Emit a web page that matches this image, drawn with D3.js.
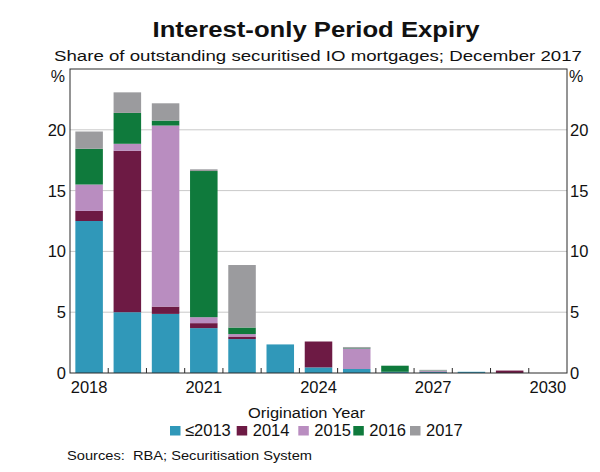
<!DOCTYPE html>
<html>
<head>
<meta charset="utf-8">
<script src="https://cdn.jsdelivr.net/npm/d3@7"></script>
<style>
  html, body { margin: 0; padding: 0; background: #fff; }
  svg { display: block; font-family: "Liberation Sans", Arial, sans-serif; }
</style>
</head>
<body>
<svg id="chart" width="600" height="472"></svg>
<script>
// ---- data ----
const years = [2018, 2019, 2020, 2021, 2022, 2023, 2024, 2025, 2026, 2027, 2028, 2029, 2030];
const seriesNames = ["≤2013", "2014", "2015", "2016", "2017"];
const le2013 = [12.5, 5.0, 4.86, 3.69, 2.79, 2.35, 0.46, 0.33, 0.1, 0.1, 0.1, 0, 0];
const y2014  = [0.83, 13.28, 0.6, 0.41, 0.21, 0, 2.13, 0, 0, 0.03, 0, 0.2, 0];
const y2015  = [2.17, 0.57, 14.89, 0.49, 0.2, 0, 0, 1.69, 0, 0.05, 0, 0, 0];
const y2016  = [2.94, 2.54, 0.41, 12.02, 0.54, 0, 0, 0.05, 0.5, 0.03, 0, 0, 0];
const y2017  = [1.42, 1.69, 1.42, 0.14, 5.14, 0, 0, 0.07, 0, 0.05, 0, 0, 0];
const yTicks = [0, 5, 10, 15, 20];
const xTickLabels = [2018, 2021, 2024, 2027, 2030];
const colors = ["#3098b9", "#6d1a44", "#b98dc0", "#0f7a3c", "#9b9b9e"];

const title = "Interest-only Period Expiry";
const subtitle = "Share of outstanding securitised IO mortgages; December 2017";
const xTitle = "Origination Year";
const source = "Sources:  RBA; Securitisation System";

// ---- layout ----
const svg = d3.select("#chart");
const pL = 70, pR = 567, pT = 69, pB = 373;
const ink = "#111";

const table = years.map((yr, i) => ({
  year: yr,
  "≤2013": le2013[i], "2014": y2014[i], "2015": y2015[i], "2016": y2016[i], "2017": y2017[i]
}));
const stacked = d3.stack().keys(seriesNames)(table);

const x = d3.scaleBand().domain(years).range([pL, pR]).paddingInner(0.28).paddingOuter(0.14);
const y = d3.scaleLinear().domain([0, 25]).range([pB, pT]);
const color = d3.scaleOrdinal().domain(seriesNames).range(colors);

// gridlines
svg.append("g").selectAll("line").data(yTicks.filter(d => d > 0)).join("line")
  .attr("x1", pL).attr("x2", pR)
  .attr("y1", d => y(d)).attr("y2", d => y(d))
  .attr("stroke", "#c9c9c9").attr("stroke-width", 1);

// bars
svg.append("g").selectAll("g").data(stacked).join("g")
  .attr("fill", d => color(d.key))
  .selectAll("rect").data(d => d).join("rect")
  .attr("x", d => x(d.data.year))
  .attr("width", x.bandwidth())
  .attr("y", d => y(d[1]))
  .attr("height", d => Math.max(0, y(d[0]) - y(d[1])));

// frame
svg.append("rect").attr("x", pL).attr("y", pT)
  .attr("width", pR - pL).attr("height", pB - pT)
  .attr("fill", "none").attr("stroke", "#2b2b2b").attr("stroke-width", 1);

// x ticks at band boundaries (pointing up)
const step = x.step();
const boundaries = years.slice(1).map(yr => x(yr) - x.paddingInner() * step / 2);
svg.append("g").selectAll("line").data(boundaries).join("line")
  .attr("x1", d => d).attr("x2", d => d)
  .attr("y1", pB).attr("y2", pB - 5)
  .attr("stroke", "#2b2b2b").attr("stroke-width", 1);

// x tick labels
svg.append("g").selectAll("text").data(xTickLabels).join("text")
  .attr("x", d => x(d) + x.bandwidth() / 2)
  .attr("y", 393)
  .attr("text-anchor", "middle")
  .attr("font-size", 16.5).attr("fill", ink)
  .text(d => d);

// y tick labels left & right
svg.append("g").selectAll("text").data(yTicks).join("text")
  .attr("x", pL - 4).attr("y", d => y(d))
  .attr("dy", "0.36em").attr("text-anchor", "end")
  .attr("font-size", 16.5).attr("fill", ink)
  .text(d => d);
svg.append("g").selectAll("text").data(yTicks).join("text")
  .attr("x", pR + 3).attr("y", d => y(d))
  .attr("dy", "0.36em").attr("text-anchor", "start")
  .attr("font-size", 16.5).attr("fill", ink)
  .text(d => d);

// % units
svg.append("text").attr("x", pL - 5).attr("y", 82).attr("text-anchor", "end")
  .attr("font-size", 16).attr("fill", ink).text("%");
svg.append("text").attr("x", pR + 2).attr("y", 82).attr("text-anchor", "start")
  .attr("font-size", 16).attr("fill", ink).text("%");

// helper: text stretched to a given width
function fitText(str, cx, by, size, width, bold) {
  return svg.append("text")
    .attr("x", cx - width / 2).attr("y", by)
    .attr("font-size", size)
    .attr("font-weight", bold ? "bold" : "normal")
    .attr("textLength", width).attr("lengthAdjust", "spacingAndGlyphs")
    .attr("fill", ink).text(str);
}

// titles
fitText(title, 316, 37, 21.5, 327, true);
fitText(subtitle, 318, 61, 15.5, 528, false);

// x axis title
fitText(xTitle, 306.5, 418, 15.5, 117, false);

// legend
const legendX = [170, 236.7, 298.3, 353.3, 410];
const lg = svg.append("g").selectAll("g").data(seriesNames).join("g")
  .attr("transform", (d, i) => `translate(${legendX[i]},0)`);
lg.append("rect").attr("x", 0).attr("y", 426).attr("width", 10.5).attr("height", 9.5)
  .attr("fill", d => color(d));
lg.append("text").attr("x", (d, i) => i === 0 ? 15 : 16).attr("y", 435.5)
  .attr("font-size", 16.5).attr("fill", ink).text(d => d);

// source
svg.append("text").attr("x", 67).attr("y", 460)
  .style("white-space", "pre")
  .attr("font-size", 13.5).attr("textLength", 245).attr("lengthAdjust", "spacingAndGlyphs")
  .attr("fill", ink).text(source);
</script>
</body>
</html>
